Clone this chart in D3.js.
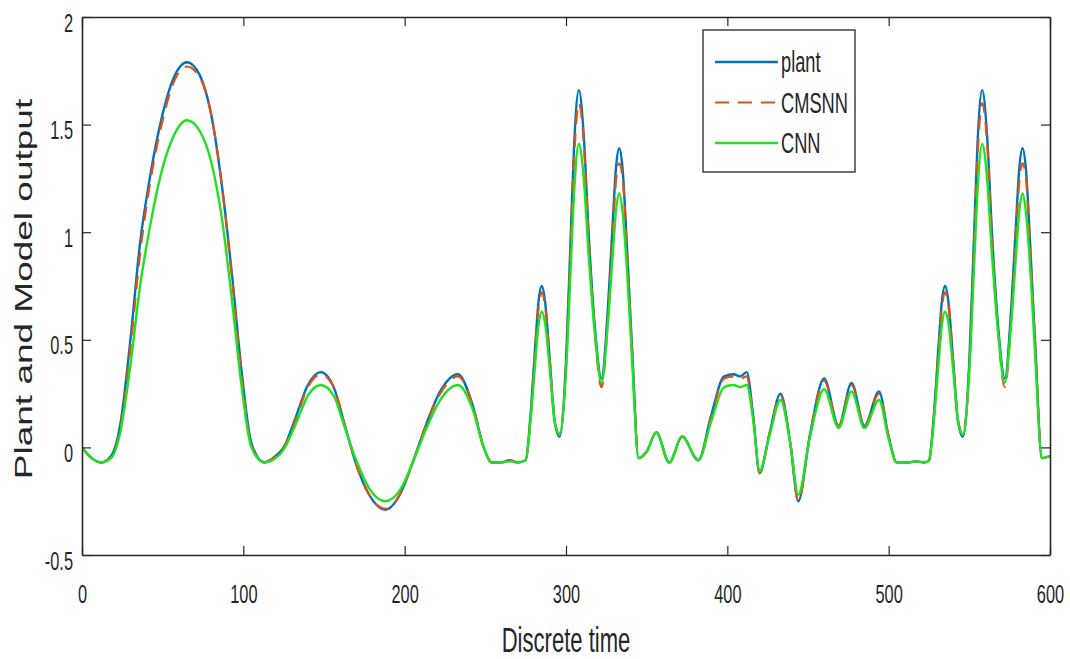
<!DOCTYPE html>
<html>
<head>
<meta charset="utf-8">
<script src="https://cdn.jsdelivr.net/npm/d3@7/dist/d3.min.js"></script>
<style>
    html, body { margin: 0; padding: 0; background: #fff; }
    svg { display: block; }
    text { font-family: "Liberation Sans", Arial, sans-serif; fill: #262626; }
</style>
</head>
<body>
<div id="chart"></div>
<script>
// Discrete time samples (shared by all three series)
var time = [
    0, 6, 12, 18, 24, 30, 36, 42, 50, 57, 65, 73, 80, 87, 93, 99, 105, 113, 120,
    125, 132, 140, 148, 156, 163, 170, 178, 188, 197, 205, 213, 222, 233, 242, 249,
    254, 260, 265, 270, 275,
    278, 281, 283, 285, 287, 290, 293, 296, 300, 303, 305, 308, 311, 314, 318, 322, 326, 329, 331, 333, 335, 338, 341, 345,
    350, 356, 364, 372, 382, 390, 398, 404, 408, 412, 416, 420, 426, 433, 439, 444, 451,
    460, 469, 477, 485, 494, 500, 505, 512, 517, 522, 525,
    528, 531, 533, 535, 537, 540, 543, 546, 550, 553, 555, 558, 561, 564, 568, 572, 576, 579, 581, 583, 585, 588, 591, 595,
    600
];

var plant = [
    0, -0.05, -0.07, -0.04, 0.12, 0.5, 0.95, 1.25, 1.55, 1.72, 1.79, 1.73, 1.55, 1.2, 0.8, 0.35, 0.02, -0.07, -0.04,
    0.0, 0.13, 0.29, 0.35, 0.28, 0.1, -0.08, -0.22, -0.29, -0.22, -0.07, 0.1, 0.26, 0.34, 0.2, 0.0,
    -0.07, -0.07, -0.06, -0.07, -0.06,
    0.15, 0.48, 0.68, 0.75, 0.68, 0.4, 0.12, 0.05, 0.4, 1.0, 1.4, 1.66, 1.45, 1.0, 0.55, 0.32, 0.65, 1.05, 1.3, 1.39, 1.3, 0.9, 0.45, -0.05,
    -0.02, 0.07, -0.07, 0.05, -0.06, 0.15, 0.33, 0.34, 0.33, 0.35, 0.15, -0.12, 0.06, 0.25, 0.02, -0.25, 0.05,
    0.32, 0.1, 0.3, 0.1, 0.26, 0.05, -0.07, -0.07, -0.065, -0.07, -0.06,
    0.15, 0.48, 0.68, 0.75, 0.68, 0.4, 0.12, 0.05, 0.4, 1.0, 1.4, 1.66, 1.45, 1.0, 0.55, 0.32, 0.65, 1.05, 1.3, 1.39, 1.3, 0.9, 0.45, -0.05,
    -0.04
];

var cmsnn = [
    0, -0.05, -0.07, -0.045, 0.1, 0.46, 0.9, 1.22, 1.52, 1.7, 1.77, 1.72, 1.55, 1.2, 0.78, 0.33, 0.01, -0.07, -0.04,
    0.0, 0.12, 0.28, 0.34, 0.28, 0.1, -0.08, -0.22, -0.285, -0.22, -0.07, 0.1, 0.25, 0.33, 0.2, 0.0,
    -0.07, -0.07, -0.06, -0.07, -0.06,
    0.14, 0.46, 0.65, 0.72, 0.66, 0.4, 0.13, 0.06, 0.38, 0.96, 1.34, 1.6, 1.42, 0.98, 0.52, 0.28, 0.6, 1.0, 1.24, 1.32, 1.26, 0.88, 0.45, -0.05,
    -0.02, 0.07, -0.07, 0.05, -0.06, 0.14, 0.32, 0.33, 0.32, 0.33, 0.14, -0.12, 0.06, 0.24, 0.02, -0.25, 0.05,
    0.31, 0.1, 0.29, 0.1, 0.25, 0.05, -0.07, -0.07, -0.065, -0.07, -0.06,
    0.14, 0.46, 0.65, 0.72, 0.66, 0.4, 0.13, 0.06, 0.38, 0.96, 1.34, 1.6, 1.42, 0.98, 0.52, 0.28, 0.6, 1.0, 1.24, 1.32, 1.26, 0.88, 0.45, -0.05,
    -0.04
];

var cnn = [
    0, -0.05, -0.07, -0.05, 0.08, 0.38, 0.75, 1.02, 1.3, 1.45, 1.52, 1.47, 1.33, 1.05, 0.68, 0.28, 0.0, -0.07, -0.05,
    -0.01, 0.1, 0.24, 0.29, 0.24, 0.09, -0.06, -0.19, -0.25, -0.2, -0.07, 0.08, 0.22, 0.29, 0.18, 0.0,
    -0.07, -0.07, -0.065, -0.07, -0.06,
    0.12, 0.4, 0.57, 0.63, 0.58, 0.36, 0.12, 0.06, 0.35, 0.85, 1.18, 1.41, 1.25, 0.9, 0.52, 0.3, 0.58, 0.9, 1.1, 1.18, 1.1, 0.8, 0.4, -0.05,
    -0.02, 0.07, -0.07, 0.05, -0.06, 0.12, 0.28, 0.29, 0.28, 0.29, 0.13, -0.11, 0.05, 0.22, 0.02, -0.22, 0.04,
    0.27, 0.09, 0.26, 0.09, 0.22, 0.04, -0.07, -0.07, -0.065, -0.07, -0.06,
    0.12, 0.4, 0.57, 0.63, 0.58, 0.36, 0.12, 0.06, 0.35, 0.85, 1.18, 1.41, 1.25, 0.9, 0.52, 0.3, 0.58, 0.9, 1.1, 1.18, 1.1, 0.8, 0.4, -0.05,
    -0.04
];

var xTicks = [0, 100, 200, 300, 400, 500, 600];
var yTicks = [-0.5, 0, 0.5, 1, 1.5, 2];
var yTickLabels = ['-0.5', '0', '0.5', '1', '1.5', '2'];
var seriesNames = ['plant', 'CMSNN', 'CNN'];

(function(d3) {
    'use strict';

    var width = 1070,
        height = 659,
        margin = {top: 17, right: 20, bottom: 104, left: 82};

    var innerWidth = width - margin.left - margin.right,
        innerHeight = height - margin.top - margin.bottom;

    // the source picture is squeezed horizontally, so is the text
    var squeeze = 0.63;
    var ink = '#262626';

    var series = [
        {name: seriesNames[0], values: plant, color: '#0072BD', width: 2.4, dash: null},
        {name: seriesNames[1], values: cmsnn, color: '#D95319', width: 2.2, dash: '14,9'},
        {name: seriesNames[2], values: cnn, color: '#22E022', width: 2.4, dash: null}
    ];

    var svg = d3.select('#chart').append('svg')
        .attr('width', width)
        .attr('height', height);

    var chart = svg.append('g')
        .attr('transform', 'translate(' + margin.left + ',' + margin.top + ')');

    var x = d3.scaleLinear().domain([0, 600]).range([0, innerWidth]);
    var y = d3.scaleLinear().domain([-0.5, 2]).range([innerHeight, 0]);

    // Clipping path
    chart.append('defs').append('clipPath')
        .attr('id', 'plotAreaClip')
        .append('rect')
        .attr('width', innerWidth)
        .attr('height', innerHeight);

    var plotArea = chart.append('g')
        .attr('clip-path', 'url(#plotAreaClip)');

    var line = d3.line()
        .x(function(d) { return x(d[0]); })
        .y(function(d) { return y(d[1]); })
        .curve(d3.curveMonotoneX);

    series.forEach(function(s) {
        plotArea.append('path')
            .datum(time.map(function(t, i) { return [t, s.values[i]]; }))
            .attr('fill', 'none')
            .attr('stroke', s.color)
            .attr('stroke-width', s.width)
            .attr('stroke-dasharray', s.dash)
            .attr('stroke-linejoin', 'round')
            .attr('d', line);
    });

    // Axes, ticks pointing inwards on all four sides
    function styleAxis(g) {
        g.select('.domain').attr('stroke', ink).attr('stroke-width', 1.6);
        g.selectAll('.tick line').attr('stroke', ink).attr('stroke-width', 1.2);
    }

    chart.append('g')
        .attr('transform', 'translate(0,' + innerHeight + ')')
        .call(d3.axisBottom(x).tickValues(xTicks).tickSize(-9).tickSizeOuter(0).tickPadding(0))
        .call(styleAxis)
        .call(function(g) {
            g.selectAll('text')
                .attr('y', 48)
                .attr('dy', null)
                .attr('font-size', 26)
                .attr('fill', ink)
                .attr('transform', 'scale(' + squeeze + ',1)');
        });

    chart.append('g')
        .call(d3.axisTop(x).tickValues(xTicks).tickSize(-9).tickSizeOuter(0).tickFormat(''))
        .call(styleAxis);

    chart.append('g')
        .call(d3.axisLeft(y).tickValues(yTicks).tickSize(-9).tickSizeOuter(0)
            .tickFormat(function(d, i) { return yTickLabels[i]; }))
        .call(styleAxis)
        .call(function(g) {
            g.selectAll('text')
                .attr('x', -9 / squeeze)
                .attr('y', 14)
                .attr('dy', null)
                .attr('font-size', 26)
                .attr('fill', ink)
                .attr('transform', 'scale(' + squeeze + ',1)');
        });

    chart.append('g')
        .attr('transform', 'translate(' + innerWidth + ',0)')
        .call(d3.axisRight(y).tickValues(yTicks).tickSize(-9).tickSizeOuter(0).tickFormat(''))
        .call(styleAxis);

    // Axis titles
    svg.append('text')
        .attr('transform', 'translate(' + (margin.left + innerWidth / 2) + ',652) scale(' + squeeze + ',1)')
        .attr('text-anchor', 'middle')
        .attr('font-size', 35)
        .text('Discrete time');

    svg.append('text')
        .attr('transform', 'translate(32,' + (margin.top + innerHeight / 2 + 3) + ') scale(' + squeeze + ',1) rotate(-90)')
        .attr('text-anchor', 'middle')
        .attr('font-size', 37)
        .text('Plant and Model output');

    // Legend
    var legend = svg.append('g')
        .attr('transform', 'translate(703,30)');

    legend.append('rect')
        .attr('width', 152)
        .attr('height', 142)
        .attr('fill', '#fff')
        .attr('stroke', ink)
        .attr('stroke-width', 1.3);

    var rows = legend.selectAll('.row')
        .data(series)
        .enter().append('g')
        .attr('class', 'row')
        .attr('transform', function(d, i) { return 'translate(0,' + (32 + i * 40.5) + ')'; });

    rows.append('line')
        .attr('x1', 12)
        .attr('x2', 75)
        .attr('stroke', function(d) { return d.color; })
        .attr('stroke-width', function(d) { return d.width; })
        .attr('stroke-dasharray', function(d) { return d.dash; });

    rows.append('text')
        .attr('transform', 'translate(78,10) scale(' + squeeze + ',1)')
        .attr('font-size', 29)
        .attr('fill', '#111')
        .text(function(d) { return d.name; });

}(d3));
</script>
</body>
</html>
